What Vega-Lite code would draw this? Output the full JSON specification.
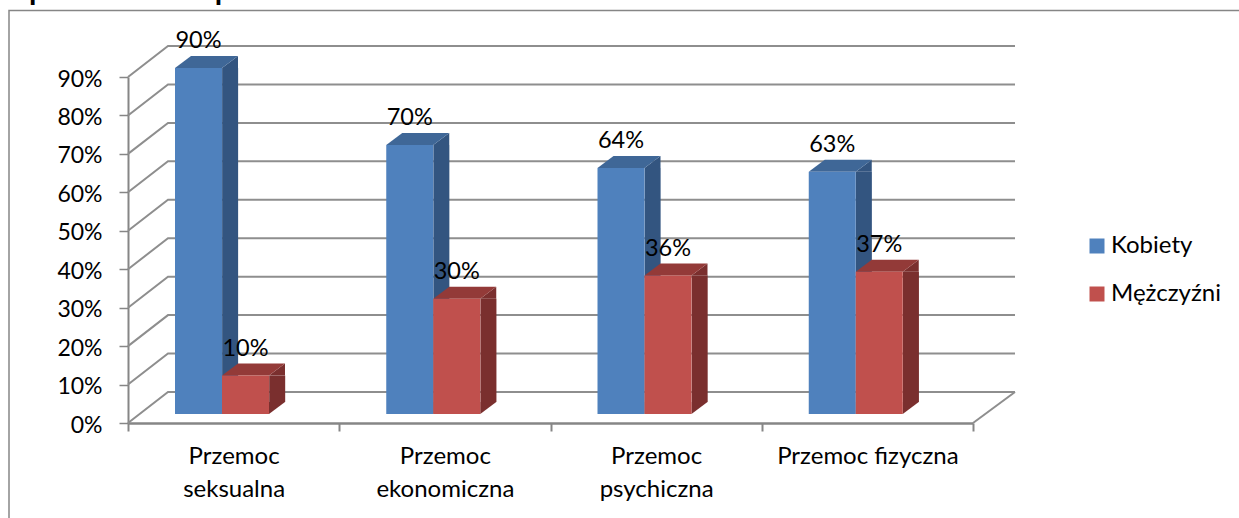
{
"$schema":"https://vega.github.io/schema/vega-lite/v6.json",
"autosize":{"type":"none"},
"padding":{"left":128,"top":77,"right":266,"bottom":95},
"width":845,"height":346,
"background":"white",
"title":{"text":"z podziałem na płeć  2010 r.","anchor":"start","frame":"group","dx":-120,"offset":2,"font":"Lato","fontSize":30,"fontWeight":"bold","color":"#000000"},
"view":{"stroke":null},
"config":{"font":"Lato"},
"datasets":{
"bars":[
{"cat":"Przemoc seksualna","series":"Kobiety","value":0.90},
{"cat":"Przemoc seksualna","series":"Mężczyźni","value":0.10},
{"cat":"Przemoc ekonomiczna","series":"Kobiety","value":0.70},
{"cat":"Przemoc ekonomiczna","series":"Mężczyźni","value":0.30},
{"cat":"Przemoc psychiczna","series":"Kobiety","value":0.64},
{"cat":"Przemoc psychiczna","series":"Mężczyźni","value":0.36},
{"cat":"Przemoc fizyczna","series":"Kobiety","value":0.63},
{"cat":"Przemoc fizyczna","series":"Mężczyźni","value":0.37}
],
"grid":[{"tick":0},{"tick":0.1},{"tick":0.2},{"tick":0.3},{"tick":0.4},{"tick":0.5},{"tick":0.6},{"tick":0.7},{"tick":0.8},{"tick":0.9}]
},
"layer":[
{"data":{"name":"grid"},
"mark":{"type":"point","shape":"M0,0L40,-31L887,-31","size":4,"filled":false,"fill":null,"stroke":"#8e8e8e","strokeWidth":2,"opacity":1,"clip":false},
"encoding":{
"x":{"datum":"Przemoc seksualna","type":"nominal","bandPosition":0,
"scale":{"domain":["Przemoc seksualna","Przemoc ekonomiczna","Przemoc psychiczna","Przemoc fizyczna"],"paddingInner":0,"paddingOuter":0},
"axis":{"title":null,"labelAngle":0,"tickBand":"extent","tickSize":8,"tickColor":"#868686","tickWidth":2,"domainColor":"#868686","domainWidth":2.5,"labelFont":"Lato","labelFontSize":24,"labelColor":"#000000","labelPadding":13,"labelLineHeight":33,"labelBaseline":"top","labelLimit":0,
"labelExpr":"datum.label==='Przemoc fizyczna'?datum.label:split(datum.label,' ')"}},
"y":{"field":"tick","type":"quantitative","scale":{"domain":[0,0.9],"nice":false},
"axis":{"title":null,"values":[0,0.1,0.2,0.3,0.4,0.5,0.6,0.7,0.8,0.9],"tickCount":10,"format":".0%","grid":false,"labelOverlap":false,"labelSeparation":0,"labelOffset":2,"tickSize":9,"tickColor":"#868686","tickWidth":1.5,"domainColor":"#868686","domainWidth":2,"labelFont":"Lato","labelFontSize":23,"labelColor":"#000000","labelPadding":17}}
}},
{"data":{"values":[{"tick":0}]},
"mark":{"type":"point","shape":"M0,0L42,-31","size":4,"filled":false,"fill":null,"stroke":"#8e8e8e","strokeWidth":2,"opacity":1,"clip":false},
"encoding":{"x":{"datum":"Przemoc fizyczna","type":"nominal","bandPosition":1},"y":{"field":"tick","type":"quantitative"}}},
{"data":{"values":[{"tick":0}]},
"mark":{"type":"point","shape":"M-119,95L-119,-412.5L1111,-412.5","size":4,"filled":false,"fill":null,"stroke":"#868686","strokeWidth":1.5,"opacity":1,"clip":false},
"encoding":{"x":{"datum":"Przemoc seksualna","type":"nominal","bandPosition":0},"y":{"field":"tick","type":"quantitative"}}},
{"data":{"name":"bars"},
"transform":[{"filter":"datum.series==='Kobiety'"}],
"mark":{"type":"rule","strokeWidth":16,"strokeCap":"butt","yOffset":-9,"y2Offset":-21,"color":"#335580"},
"encoding":{"x":{"field":"cat","type":"nominal","bandPosition":0.4834},"y":{"field":"value","type":"quantitative"},"y2":{"datum":0}}},
{"data":{"name":"bars"},
"transform":[{"filter":"datum.series!=='Kobiety'"}],
"mark":{"type":"rule","strokeWidth":16,"strokeCap":"butt","yOffset":-9,"y2Offset":-21,"color":"#7a2f2e"},
"encoding":{"x":{"field":"cat","type":"nominal","bandPosition":0.7062},"y":{"field":"value","type":"quantitative"},"y2":{"datum":0}}},
{"data":{"name":"bars"},
"encoding":{
"x":{"field":"cat","type":"nominal","sort":null},
"xOffset":{"field":"series","scale":{"domain":["Kobiety","Mężczyźni"],"paddingInner":0,"paddingOuter":0,"range":[47,141]}}
},
"layer":[
{"mark":{"type":"point","shape":"M23.5,-9L39.5,-9L39.5,-21Z","size":4,"filled":true,"opacity":1,"strokeWidth":0},
"encoding":{"y":{"field":"value","type":"quantitative"},
"color":{"condition":{"test":"datum.series==='Kobiety'","value":"#335580"},"value":"#7a2f2e"}}},
{"mark":{"type":"point","shape":"M23.5,-9L39.5,-21L23.5,-21Z","size":4,"filled":true,"opacity":1,"strokeWidth":0},
"encoding":{"y":{"datum":0,"type":"quantitative"},
"color":{"condition":{"test":"datum.series==='Kobiety'","value":"#335580"},"value":"#7a2f2e"}}},
{"mark":{"type":"point","shape":"M-23.5,-9L23.5,-9L39.5,-21L-7.5,-21Z","size":4,"filled":true,"opacity":1,"strokeWidth":0},
"encoding":{"y":{"field":"value","type":"quantitative"},
"color":{"condition":{"test":"datum.series==='Kobiety'","value":"#3f6797"},"value":"#933a38"}}},
{"mark":{"type":"bar","yOffset":-9,"y2Offset":-9},
"encoding":{"y":{"field":"value","type":"quantitative"},"y2":{"datum":0},
"color":{"field":"series","type":"nominal","scale":{"domain":["Kobiety","Mężczyźni"],"range":["#4f81bd","#c0504d"]},
"legend":{"title":null,"orient":"none","legendX":957,"legendY":157,"symbolType":"square","symbolSize":225,"labelFont":"Lato","labelFontSize":24,"labelColor":"#000000","rowPadding":24,"labelOffset":2}}}},
{"mark":{"type":"text","yOffset":-36,"font":"Lato","fontSize":23.5,"color":"#000000"},
"encoding":{"y":{"field":"value","type":"quantitative"},"text":{"field":"value","type":"quantitative","format":".0%"}}}
]}
]
}
